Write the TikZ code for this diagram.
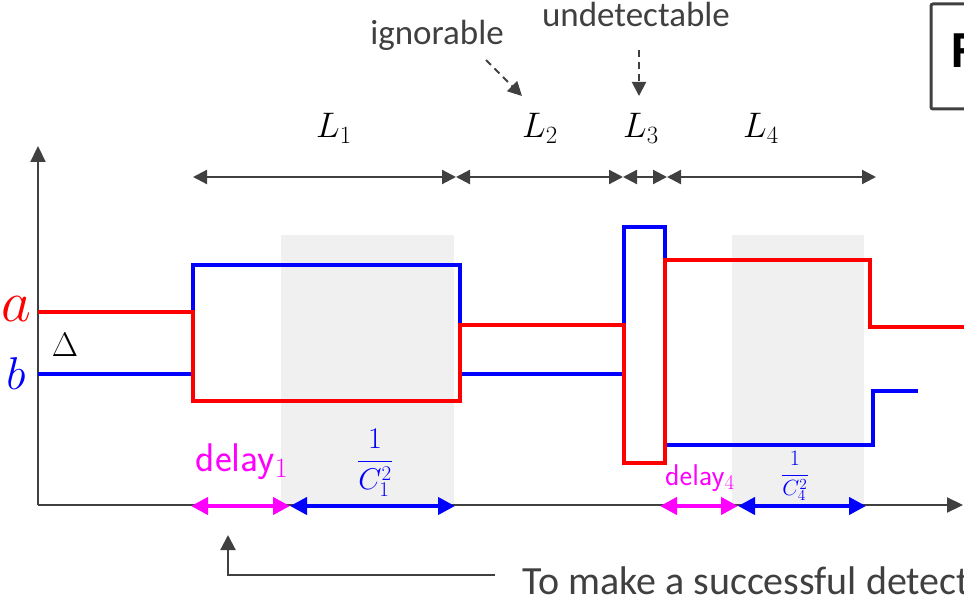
\RequirePackage{fix-cm}
\documentclass[tikz,border=0pt]{standalone}
\usepackage{fontspec}
\newfontfamily\carlito{Carlito}
\usetikzlibrary{arrows.meta}
\definecolor{axisgray}{HTML}{404040}
\definecolor{shadegray}{HTML}{F0F0F0}
\definecolor{mag}{RGB}{255,0,255}
\definecolor{sigred}{RGB}{255,0,0}
\definecolor{sigblue}{RGB}{0,0,255}
\tikzset{
  axisline/.style={draw=axisgray, line width=2.2pt, -{Triangle[length=16pt,width=15pt]}},
  lspan/.style={draw=axisgray, line width=2.2pt, {Triangle[length=14pt,width=14pt]}-{Triangle[length=14pt,width=14pt]}},
  sig/.style={line width=3.2pt, line join=miter},
  dashtip/.style={draw=axisgray, line width=2pt, dash pattern=on 7pt off 5pt, -{Triangle[length=14pt,width=14pt]}},
  delayarr/.style={draw=mag, line width=4pt, {Triangle[length=17pt,width=17pt]}-{Triangle[length=17pt,width=17pt]}},
  invarr/.style={draw=sigblue, line width=4pt, {Triangle[length=17pt,width=17pt]}-{Triangle[length=17pt,width=17pt]}},
  graytext/.style={text=axisgray, font=\carlito\fontsize{35}{40}\selectfont, inner sep=0pt},
  Llabel/.style={font=\fontsize{35.5}{40}\selectfont, inner sep=0pt}
}
\begin{document}
\begin{tikzpicture}[x=1pt,y=-1pt]
\useasboundingbox (0,0) rectangle (964,607);
\clip (0,0) rectangle (964,607);
% shaded windows
\fill[shadegray] (281,235) rectangle (454,505);
\fill[shadegray] (732,235) rectangle (864,505);
% axes
\coordinate (O) at (38,505);
\coordinate (ytop) at (38,146);
\coordinate (xend) at (963,505);
\draw[axisline] (O) -- (ytop);
\draw[axisline] (O) -- (xend);
% signals
\draw[sig, sigblue] (38,374) -- (193,374) -- (193,265) -- (460,265) -- (460,374) -- (624,374) -- (624,227) -- (665,227) -- (665,445) -- (873,445) -- (873,391) -- (918,391);
\draw[sig, sigred] (38,312) -- (193,312) -- (193,401) -- (460,401) -- (460,325) -- (624,325) -- (624,463) -- (665,463) -- (665,260) -- (870,260) -- (870,327) -- (975,327);
% a, b, Delta
\node[text=sigred, font=\fontsize{58}{60}\selectfont, inner sep=0pt, anchor=base] (la) at (16,321) {$a$};
\node[text=sigblue, font=\fontsize{46}{50}\selectfont, inner sep=0pt, anchor=base] (lb) at (16,389) {$b$};
\node[font=\fontsize{34}{40}\selectfont, inner sep=0pt, anchor=base] (dl) at (65,356) {$\Delta$};
% L spans
\coordinate (p1) at (193,177);
\coordinate (p2) at (456,177);
\coordinate (p3) at (623,177);
\coordinate (p4) at (667,177);
\coordinate (p5) at (876,177);
\draw[lspan] (p1) -- (p2);
\draw[lspan] (p2) -- (p3);
\draw[lspan] (p3) -- (p4);
\draw[lspan] (p4) -- (p5);
\node[Llabel, anchor=base] (L1) at (334,138) {$L_1$};
\node[Llabel, anchor=base] (L2) at (540,138) {$L_2$};
\node[Llabel, anchor=base] (L3) at (641,138) {$L_3$};
\node[Llabel, anchor=base] (L4) at (761,138) {$L_4$};
% annotations
\node[graytext, anchor=base] (ign) at (437,45) {ignorable};
\node[graytext, anchor=base] (und) at (636,27) {undetectable};
\coordinate (ign0) at (486,60);
\coordinate (ign1) at (522,96);
\coordinate (und0) at (639,50);
\coordinate (und1) at (639,96);
\draw[dashtip] (ign0) -- (ign1);
\draw[dashtip] (und0) -- (und1);
% delay / 1/C^2 spans
\coordinate (d1a) at (191,506);
\coordinate (d1b) at (290,506);
\coordinate (c1b) at (455,506);
\coordinate (d4a) at (660,506);
\coordinate (d4b) at (738,506);
\coordinate (c4b) at (866,506);
\draw[invarr] (d1b) -- (c1b);
\draw[delayarr] (d1a) -- (d1b);
\draw[invarr] (d4b) -- (c4b);
\draw[delayarr] (d4a) -- (d4b);
\node[text=mag, font=\sffamily\fontsize{40}{44}\selectfont, inner sep=0pt, anchor=base] (del1) at (242,471) {delay$_1$};
\node[text=sigblue, font=\fontsize{30}{36}\selectfont, inner sep=0pt] (inv1) at (375,463) {$\displaystyle\frac{1}{C_1^2}$};
\node[text=mag, font=\sffamily\fontsize{30}{34}\selectfont, inner sep=0pt, anchor=base] (del4) at (700,485) {delay$_4$};
\node[text=sigblue, font=\fontsize{22}{26}\selectfont, inner sep=0pt] (inv4) at (795,476) {$\displaystyle\frac{1}{C_4^2}$};
% bottom note
\node[graytext, font=\carlito\fontsize{40}{44}\selectfont, anchor=base west] (note) at (522,594) {To make a successful detection};
\coordinate (btip) at (228,535);
\coordinate (nstart) at (495,575);
\draw[draw=axisgray, line width=2pt, -{Triangle[length=15pt,width=15pt]}] (nstart) -| (btip);
% top-right box
\draw[axisgray, line width=3pt, rounded corners=2pt] (931,4) rectangle (1010,109);
\node[font=\carlito\bfseries\fontsize{52}{56}\selectfont, inner sep=0pt, anchor=base west] (F) at (951,68) {F};
\end{tikzpicture}
\end{document}
